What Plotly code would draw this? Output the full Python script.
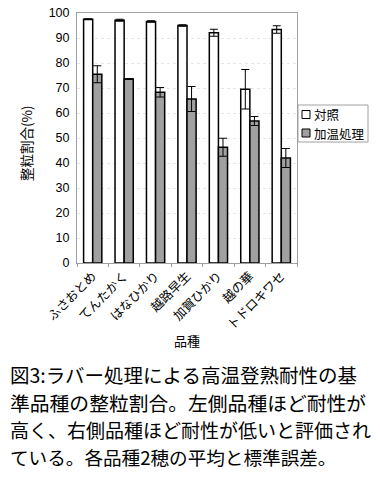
import plotly.graph_objects as go

categories = ["ふさおとめ", "てんたかく", "はなひかり", "越路早生", "加賀ひかり", "越の華", "トドロキワセ"]
control_vals = [97.5, 97.1, 96.6, 95.0, 92.1, 69.5, 93.4]
control_err = [0.2, 0.4, 0.3, 0.3, 1.4, 7.9, 1.5]
heat_vals = [75.5, 73.6, 68.3, 65.6, 46.3, 56.8, 42.0]
heat_err = [3.4, 0.1, 1.9, 5.0, 3.6, 1.8, 3.8]
series_names = ["対照", "加温処理"]
series_colors = ["white", "#a0a0a0"]
caption_lines = [
    "図3:ラバー処理による高温登熟耐性の基",
    "準品種の整粒割合。左側品種ほど耐性が",
    "高く、右側品種ほど耐性が低いと評価され",
    "ている。各品種2穂の平均と標準誤差。",
]
y_title = "整粒割合(%)"
x_title = "品種"

W, H = 380, 480
L, R, T, B = 77, 297, 13, 263  # plot area in pixels


def px(xp):
    return (xp - L) / (R - L)


def py(yp):
    return (B - yp) / (B - T)


FONT = "Liberation Sans, Arial, Noto Sans CJK JP"
JP = "Noto Sans CJK JP, Liberation Sans"

fig = go.Figure()
fig.add_trace(go.Bar(
    x=categories, y=control_vals, name=series_names[0],
    marker=dict(color=series_colors[0], line=dict(color="black", width=1.5)),
    error_y=dict(type="data", array=control_err, color="black", thickness=1, width=4),
))
fig.add_trace(go.Bar(
    x=categories, y=heat_vals, name=series_names[1],
    marker=dict(color=series_colors[1], line=dict(color="black", width=1.5)),
    error_y=dict(type="data", array=heat_err, color="black", thickness=1, width=4),
))

annotations = []
shapes = []
annotations.append(dict(
    text=x_title, xref="paper", yref="paper", x=0.5, y=py(340),
    xanchor="center", yanchor="middle", showarrow=False,
    font=dict(family=JP, size=13, color="black"),
))
annotations.append(dict(
    text=y_title, xref="paper", yref="paper", x=px(26), y=py(143),
    xanchor="center", yanchor="middle", showarrow=False, textangle=-90,
    font=dict(family=JP, size=13.5, color="black"),
))
line_y = [374, 402, 429, 456]
line_sz = [19.5, 19.8, 19.0, 18.6]
for t, yy, sz in zip(caption_lines, line_y, line_sz):
    annotations.append(dict(
        text=t, xref="paper", yref="paper", x=px(8), y=py(yy),
        xanchor="left", yanchor="middle", showarrow=False,
        font=dict(family=JP, size=sz, color="black"),
    ))

# legend box (drawn manually to match the compact original)
shapes.append(dict(type="rect", xref="paper", yref="paper",
                   x0=px(298), x1=px(368), y0=py(105), y1=py(142),
                   line=dict(color="#a0a0a0", width=1), fillcolor="white", layer="above"))
leg_y = [114.5, 133]
for name, col, yy in zip(series_names, series_colors, leg_y):
    shapes.append(dict(type="rect", xref="paper", yref="paper",
                       x0=px(302), x1=px(310), y0=py(yy - 4), y1=py(yy + 4),
                       line=dict(color="black", width=1), fillcolor=col, layer="above"))
    annotations.append(dict(
        text=name, xref="paper", yref="paper", x=px(313), y=py(yy),
        xanchor="left", yanchor="middle", showarrow=False, borderpad=0,
        font=dict(family=JP, size=12.5, color="black"),
    ))

fig.update_layout(
    width=W, height=H,
    margin=dict(l=L, r=W - R, t=T, b=H - B, pad=0, autoexpand=False),
    paper_bgcolor="white", plot_bgcolor="white",
    barmode="group", bargap=0.42, bargroupgap=0,
    showlegend=False,
    font=dict(family=FONT, size=12, color="black"),
    annotations=annotations,
    shapes=shapes,
    xaxis=dict(
        type="category", tickangle=-45, showline=True, linecolor="#a0a0a0", linewidth=1,
        mirror=True, ticks="outside", tickson="boundaries", ticklen=3, tickcolor="#a0a0a0",
        showgrid=False, tickfont=dict(family=JP, size=12.5, color="black"),
        automargin=False,
    ),
    yaxis=dict(
        range=[0, 100], dtick=10, showline=True, linecolor="#a0a0a0", linewidth=1,
        mirror=True, ticks="", showgrid=True, gridcolor="#e6e6e6", griddash="dot",
        zeroline=False, tickfont=dict(family=FONT, size=12.5, color="black"),
        ticklabelstandoff=4, automargin=False,
    ),
)

fig.write_html(
    "out.html",
    config={"displayModeBar": False},
    post_script="document.body.style.margin='0';document.body.style.padding='0';",
)
